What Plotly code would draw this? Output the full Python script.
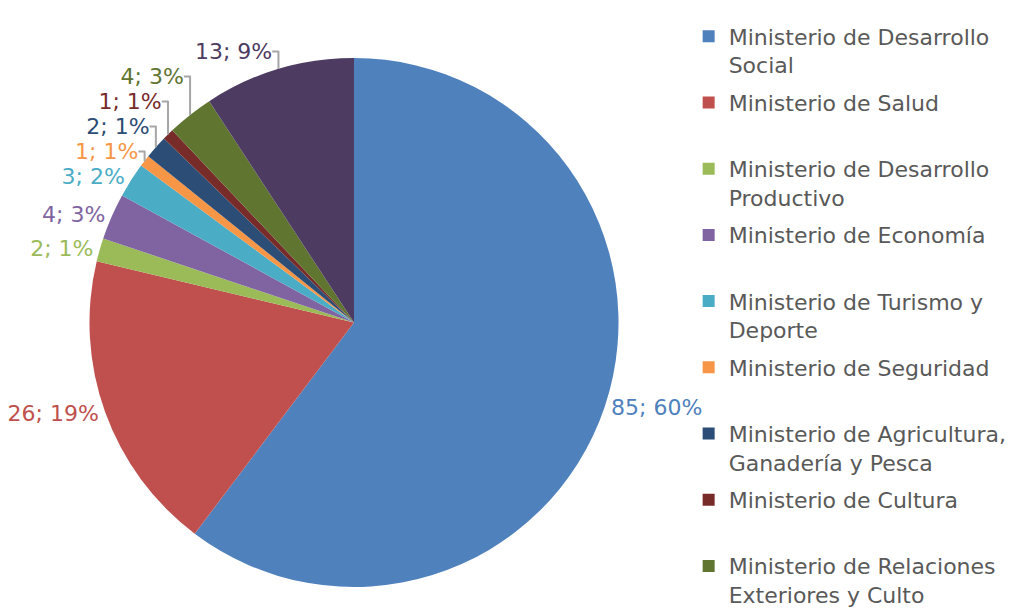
import plotly.graph_objects as go

ministerios = [
    "Ministerio de Desarrollo<br>Social",
    "Ministerio de Salud",
    "Ministerio de Desarrollo<br>Productivo",
    "Ministerio de Economía",
    "Ministerio de Turismo y<br>Deporte",
    "Ministerio de Seguridad",
    "Ministerio de Agricultura,<br>Ganadería y Pesca",
    "Ministerio de Cultura",
    "Ministerio de Relaciones<br>Exteriores y Culto",
    "Otros",
]
cantidades = [85, 26, 2, 4, 3, 1, 2, 1, 4, 13]
porcentajes = ["60%", "19%", "1%", "3%", "2%", "1%", "1%", "1%", "3%", "9%"]
colores = ["#4F81BD", "#C0504D", "#9BBB59", "#8064A2", "#4BACC6",
           "#F79646", "#2C4D75", "#772C2A", "#5F7530", "#4D3B62"]
en_leyenda = 9  # the reference legend shows the first nine entries

etiquetas = [f"<span style='color:{col}'>{c}; {p}</span>"
             for c, p, col in zip(cantidades, porcentajes, colores)]
FONT = "DejaVu Sans"

fig = go.Figure()
fig.add_trace(go.Pie(
    labels=ministerios,
    values=cantidades,
    text=etiquetas,
    textinfo="text",
    textposition="outside",
    sort=False,
    direction="clockwise",
    rotation=0,
    marker=dict(colors=colores, line=dict(width=0)),
    outsidetextfont=dict(color="#A6A6A6", size=22, family=FONT),
    domain=dict(x=[0, 692 / 1022], y=[36 / 615, 1 - 50 / 615]),
    showlegend=False,
    hoverinfo="label+value+percent",
))

for nombre, color in zip(ministerios[:en_leyenda], colores[:en_leyenda]):
    texto = nombre if "<br>" in nombre else nombre + "<br> "
    fig.add_trace(go.Scatter(
        x=[None], y=[None], mode="markers", name=texto,
        marker=dict(symbol="square", size=12, color=color),
        legendgroup=nombre, showlegend=True,
    ))

fig.update_layout(
    width=1022, height=615,
    margin=dict(l=0, r=0, t=0, b=0, autoexpand=False),
    paper_bgcolor="white",
    plot_bgcolor="white",
    xaxis=dict(visible=False, domain=[0.69, 1]),
    yaxis=dict(visible=False),
    font=dict(family=FONT, color="#595959"),
    legend=dict(x=0.666, y=0.9878, xanchor="left", yanchor="top",
                valign="top", tracegroupgap=6,
                font=dict(size=22, color="#595959", family=FONT),
                itemwidth=30, bgcolor="rgba(0,0,0,0)"),
)
fig.write_html("out.html")
